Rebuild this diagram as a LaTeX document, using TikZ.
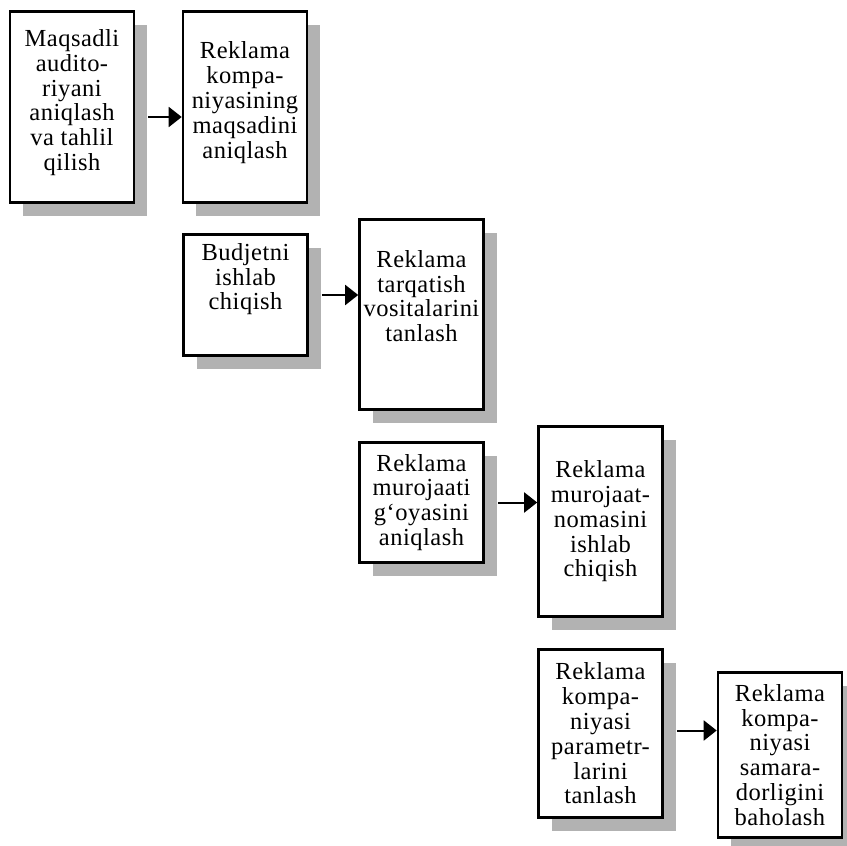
\documentclass[tikz,border=0pt]{standalone}
\usepackage{fontspec}
\setmainfont{Liberation Serif}[LetterSpace=2]
\usetikzlibrary{arrows.meta,shadows}

\begin{document}
\begin{tikzpicture}[
  x=1pt, y=-1pt,
  box/.style={draw, line width=2.6pt, fill=white, minimum width=124pt, inner sep=0pt, align=center,
    font=\fontsize{24.5}{24.8}\selectfont,
    drop shadow={shadow xshift=13pt, shadow yshift=-13pt, fill=black!30, opacity=1}},
  arrow/.style={-{Triangle[length=13pt, width=20pt]}, line width=2pt}
]
\useasboundingbox (0,0) rectangle (847,846);

\node[box, minimum height=191pt, text depth=14pt] (audit) at (72,107) {Maqsadli\\audito-\\riyani\\aniqlash\\va tahlil\\qilish};
\node[box, minimum height=191pt, text depth=14pt] (goal) at (245,107) {Reklama\\kompa-\\niyasining\\maqsadini\\aniqlash};

\node[box, minimum height=121pt, text depth=37pt] (budget) at (245.5,295) {Budjetni\\ishlab\\chiqish};
\node[box, minimum height=190pt, text depth=37pt] (media) at (421.5,314.5) {Reklama\\tarqatish\\vositalarini\\tanlash};

\node[box, minimum height=120pt] (idea) at (421.5,502.5) {Reklama\\murojaati\\g‘oyasini\\aniqlash};
\node[box, minimum height=190pt] (message) at (600.5,521.5) {Reklama\\murojaat-\\nomasini\\ishlab\\chiqish};

\node[box, minimum height=168pt] (params) at (600.5,733.5) {Reklama\\kompa-\\niyasi\\parametr-\\larini\\tanlash};
\node[box, minimum height=165pt] (effect) at (780,755) {Reklama\\kompa-\\niyasi\\samara-\\dorligini\\baholash};

\draw[arrow] ([xshift=13pt, yshift=-10pt]audit.east) -- ([yshift=-10pt]goal.west);
\draw[arrow] ([xshift=13pt]budget.east) -- (budget.east -| media.west);
\draw[arrow] ([xshift=13pt]idea.east) -- (idea.east -| message.west);
\draw[arrow] ([xshift=13pt, yshift=3pt]params.east) -- ([yshift=3pt]params.east -| effect.west);

\end{tikzpicture}
\end{document}
